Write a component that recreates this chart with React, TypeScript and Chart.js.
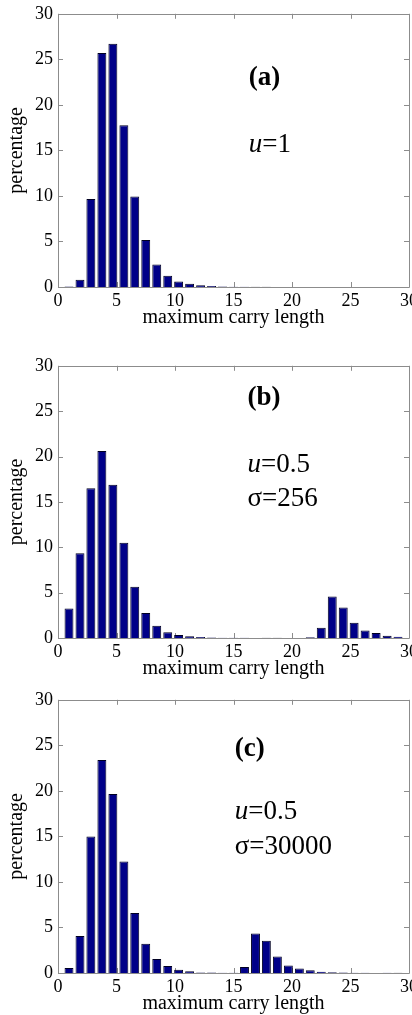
import React, { useEffect, useRef } from 'react';
import { Chart, registerables } from 'chart.js';

Chart.register(...registerables);

// ---------- data ----------
const binCenters = [
  0.94, 1.88, 2.81, 3.75, 4.69, 5.63, 6.56, 7.5, 8.44, 9.38, 10.31, 11.25, 12.19, 13.13, 14.06, 15.0,
  15.94, 16.88, 17.81, 18.75, 19.69, 20.63, 21.56, 22.5, 23.44, 24.38, 25.31, 26.25, 27.19, 28.13, 29.06,
];

const valuesA = [
  0.05, 0.8, 9.65, 25.7, 26.7, 17.75, 9.94, 5.17, 2.46, 1.23, 0.61, 0.36, 0.18, 0.1, 0.05, 0.04,
  0.03, 0.02, 0.02, 0.01, 0, 0, 0, 0, 0, 0, 0, 0, 0, 0, 0,
];

const valuesB = [
  3.26, 9.35, 16.5, 20.6, 16.9, 10.5, 5.65, 2.75, 1.34, 0.62, 0.33, 0.18, 0.1, 0.05, 0.04, 0.03,
  0.03, 0, 0.02, 0.02, 0, 0, 0.08, 1.12, 4.57, 3.37, 1.67, 0.83, 0.54, 0.25, 0.15,
];

const valuesC = [
  0.54, 4.05, 15.0, 23.4, 19.66, 12.25, 6.58, 3.22, 1.55, 0.76, 0.36, 0.18, 0.06, 0.05, 0.04, 0.04,
  0.65, 4.34, 3.54, 1.8, 0.83, 0.5, 0.29, 0.15, 0.08, 0.05, 0.04, 0.03, 0, 0.03, 0.02,
];

const xTickValues = [0, 5, 10, 15, 20, 25, 30];
const yTickValues = [0, 5, 10, 15, 20, 25, 30];

const xTitle = 'maximum carry length';
const yTitle = 'percentage';

const panelLabels = ['(a)', '(b)', '(c)'];
// each annotation line: list of [text, italic]
const panelTextA: [string, boolean][][] = [[['u', true], ['=1', false]]];
const panelTextB: [string, boolean][][] = [
  [['u', true], ['=0.5', false]],
  [['σ=256', false]],
];
const panelTextC: [string, boolean][][] = [
  [['u', true], ['=0.5', false]],
  [['σ=30000', false]],
];

// ---------- styles / layout ----------
const FONT = '"Liberation Serif", "Times New Roman", serif';
const BAR = '#000088';
const EDGE = '#000022';
const AXIS = '#8c8c8c';
const CANVAS_W = 430;

type PanelCfg = {
  values: number[];
  top: number;
  plotH: number;
  label: string;
  text: [string, boolean][][];
  annX: number;
  labelY: number;
  textY: number[];
};

const boxPlugin = {
  id: 'matlabBox',
  beforeDatasetsDraw(chart: any) {
    const { ctx, chartArea, scales } = chart;
    const { left, right, top, bottom } = chartArea;
    const xs = scales.x;
    const ys = scales.y;
    ctx.save();
    ctx.strokeStyle = AXIS;
    ctx.lineWidth = 1;
    ctx.beginPath();
    ctx.rect(Math.round(left) + 0.5, Math.round(top) + 0.5, Math.round(right - left), Math.round(bottom - top));
    ctx.stroke();
    const tl = 5;
    ctx.beginPath();
    xTickValues.forEach((v) => {
      const p = Math.round(xs.getPixelForValue(v)) + 0.5;
      ctx.moveTo(p, bottom);
      ctx.lineTo(p, bottom - tl);
      ctx.moveTo(p, top);
      ctx.lineTo(p, top + tl);
    });
    yTickValues.forEach((v) => {
      const p = Math.round(ys.getPixelForValue(v)) + 0.5;
      ctx.moveTo(left, p);
      ctx.lineTo(left + tl, p);
      ctx.moveTo(right, p);
      ctx.lineTo(right - tl, p);
    });
    ctx.stroke();
    ctx.restore();
  },
};

function makeAnnotationPlugin(cfg: PanelCfg) {
  return {
    id: 'panelText',
    afterDraw(chart: any) {
      const { ctx, scales } = chart;
      const xs = scales.x;
      const ys = scales.y;
      const px = xs.getPixelForValue(cfg.annX);
      ctx.save();
      ctx.fillStyle = '#000';
      ctx.textAlign = 'left';
      ctx.textBaseline = 'alphabetic';
      ctx.font = `bold 27px ${FONT}`;
      ctx.fillText(cfg.label, px, ys.getPixelForValue(cfg.labelY));
      cfg.text.forEach((line, i) => {
        let cx = px;
        const py = ys.getPixelForValue(cfg.textY[i]);
        line.forEach(([t, italic]) => {
          ctx.font = `${italic ? 'italic ' : ''}27px ${FONT}`;
          ctx.fillText(t, cx, py);
          cx += ctx.measureText(t).width;
        });
      });
      ctx.restore();
    },
  };
}

function Panel({ cfg }: { cfg: PanelCfg }) {
  const ref = useRef<HTMLCanvasElement | null>(null);
  const canvasH = 12 + cfg.plotH + 43 + 2;
  useEffect(() => {
    if (!ref.current) return;
    const chart = new Chart(ref.current, {
      type: 'bar',
      data: {
        datasets: [
          {
            data: binCenters.map((x, i) => ({ x, y: cfg.values[i] })) as any,
            backgroundColor: BAR,
            borderColor: EDGE,
            borderWidth: 1,
            barPercentage: 0.82,
            categoryPercentage: 1,
          },
        ],
      },
      options: {
        responsive: false,
        animation: false,
        devicePixelRatio: 1,
        layout: { padding: { top: 12, left: 0, right: 21, bottom: 2 } },
        plugins: { legend: { display: false }, tooltip: { enabled: false } },
        scales: {
          x: {
            type: 'linear',
            min: 0,
            max: 30,
            offset: false,
            afterFit: (s: any) => {
              s.height = 43;
            },
            afterBuildTicks: (s: any) => {
              s.ticks = xTickValues.map((v) => ({ value: v }));
            },
            ticks: {
              padding: 3,
              color: '#000',
              font: { family: FONT, size: 18 },
              maxRotation: 0,
              autoSkip: false,
            },
            grid: { display: false, drawTicks: false, offset: false },
            border: { display: false },
            title: {
              display: true,
              text: xTitle,
              color: '#000',
              font: { family: FONT, size: 20 },
              padding: { top: 0, bottom: 0 },
            },
          },
          y: {
            type: 'linear',
            min: 0,
            max: 30,
            afterFit: (s: any) => {
              s.width = 58;
            },
            afterBuildTicks: (s: any) => {
              s.ticks = yTickValues.map((v) => ({ value: v }));
            },
            ticks: {
              padding: 5,
              color: '#000',
              font: { family: FONT, size: 18 },
              autoSkip: false,
            },
            grid: { display: false, drawTicks: false },
            border: { display: false },
            title: {
              display: true,
              text: yTitle,
              color: '#000',
              font: { family: FONT, size: 20 },
              padding: { top: 5, bottom: 0 },
            },
          },
        },
      },
      plugins: [boxPlugin, makeAnnotationPlugin(cfg)],
    } as any);
    return () => chart.destroy();
  }, []);
  return (
    <canvas
      ref={ref}
      width={CANVAS_W}
      height={canvasH}
      style={{ position: 'absolute', left: 0, top: cfg.top - 12, width: CANVAS_W, height: canvasH }}
    />
  );
}

const panels: PanelCfg[] = [
  { values: valuesA, top: 10, plotH: 277, label: panelLabels[0], text: panelTextA, annX: 16.3, labelY: 22.2, textY: [14.84] },
  { values: valuesB, top: 362, plotH: 276, label: panelLabels[1], text: panelTextB, annX: 16.2, labelY: 25.7, textY: [18.26, 14.57] },
  { values: valuesC, top: 696, plotH: 277, label: panelLabels[2], text: panelTextC, annX: 15.1, labelY: 23.85, textY: [16.9, 13.1] },
];

export default function App() {
  return (
    <div
      style={{
        position: 'absolute',
        left: 0,
        top: 0,
        width: 412,
        height: 1015,
        overflow: 'hidden',
        background: '#fff',
      }}
    >
      {panels.map((p, i) => (
        <Panel key={i} cfg={p} />
      ))}
    </div>
  );
}
